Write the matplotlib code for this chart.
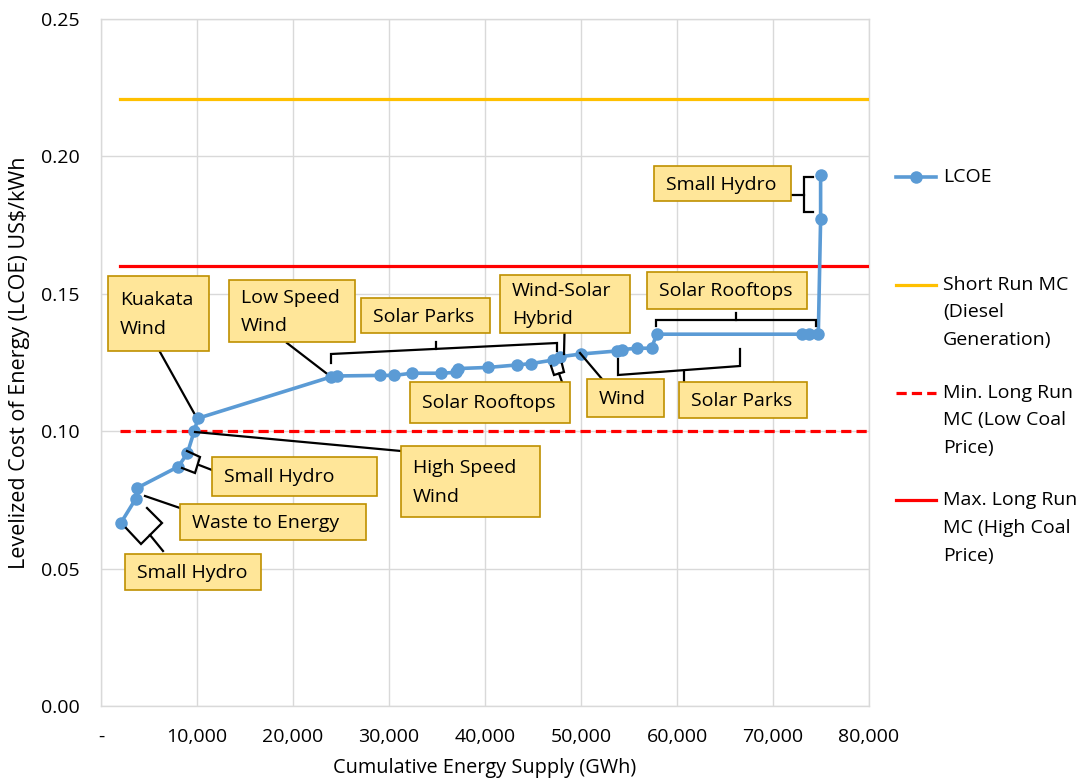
import matplotlib
matplotlib.use("Agg")
import matplotlib.pyplot as plt
from matplotlib.ticker import FuncFormatter, FixedLocator
from matplotlib.lines import Line2D
from matplotlib.patches import Rectangle
import matplotlib.transforms as mtransforms

plt.rcParams['font.family'] = ['Open Sans', 'DejaVu Sans']

# ---------------- data ----------------
supply_gwh = [2050, 3600, 3800, 8050, 9000, 9700, 10100,
              24000, 24550, 29050, 30550, 32350, 35400, 37000, 37200,
              40300, 43300, 44800, 47100, 47800, 50050,
              53750, 54270, 55850, 57350, 57880,
              72990, 73780, 74720, 74960, 74960]
lcoe = [0.0665, 0.0753, 0.0794, 0.0871, 0.0920, 0.0999, 0.1047,
        0.1198, 0.1201, 0.1203, 0.1203, 0.1211, 0.1211, 0.1214, 0.1228,
        0.1232, 0.1241, 0.1246, 0.1259, 0.1271, 0.1281,
        0.1292, 0.1297, 0.1302, 0.1302, 0.1353,
        0.1353, 0.1353, 0.1353, 0.1772, 0.1932]

ref_x = [2000, 80000]
short_run_mc = 0.221
min_long_run_mc = 0.100
max_long_run_mc = 0.160

x_ticks = [0, 10000, 20000, 30000, 40000, 50000, 60000, 70000, 80000]
y_ticks = [0.00, 0.05, 0.10, 0.15, 0.20, 0.25]

legend_labels = ["LCOE", "Short Run MC\n(Diesel\nGeneration)",
                 "Min. Long Run\nMC (Low Coal\nPrice)",
                 "Max. Long Run\nMC (High Coal\nPrice)"]

# ---------------- styles ----------------
BLUE = "#5B9BD5"
GOLD = "#FFC000"
RED = "#FF0000"
GRID = "#D9D9D9"
BOX_FACE = "#FFE699"
BOX_EDGE = "#BF9000"
FS = 14
LS_BOX = 1.74
LS_LEG = 1.68

W, H = 1084, 783
fig = plt.figure(figsize=(W / 100, H / 100), dpi=100)
ax = fig.add_axes([101 / W, (H - 706) / H, 768 / W, 687 / H])
# reference-pixel transform (origin top-left, y down) for annotation layout
px = mtransforms.Affine2D().scale(1 / W, -1 / H).translate(0, 1) + fig.transFigure

dash = (0, (3.2, 1.6))
ax.plot(ref_x, [short_run_mc] * 2, color=GOLD, lw=2.3, zorder=3)
ax.plot(ref_x, [min_long_run_mc] * 2, color=RED, lw=2.3, linestyle=dash, zorder=3)
ax.plot(ref_x, [max_long_run_mc] * 2, color=RED, lw=2.3, zorder=3)
ax.plot(supply_gwh, lcoe, color=BLUE, lw=2.6, marker='o', markersize=9,
        markeredgewidth=0, zorder=4)

ax.set_xlim(0, 80000)
ax.set_ylim(0, 0.25)
ax.xaxis.set_major_locator(FixedLocator(x_ticks))
ax.yaxis.set_major_locator(FixedLocator(y_ticks))
ax.xaxis.set_major_formatter(FuncFormatter(lambda v, p: "-" if v == 0 else f"{int(v):,}"))
ax.yaxis.set_major_formatter(FuncFormatter(lambda v, p: f"{v:.2f}"))
ax.tick_params(axis='both', length=0, labelsize=FS, colors="#000000")
ax.tick_params(axis='x', pad=16)
ax.tick_params(axis='y', pad=15.5)
ax.grid(True, color=GRID, lw=1.0, zorder=0)
ax.set_axisbelow(True)
for s in ax.spines.values():
    s.set_color(GRID)
    s.set_linewidth(1.0)

ax.set_xlabel("Cumulative Energy Supply (GWh)", fontsize=14.3)
ax.xaxis.set_label_coords((485 - 101) / 768, (706 - 768) / 687)
ax.xaxis.label.set_va('center')
ax.set_ylabel("Levelized Cost of Energy (LCOE) US$/kWh", fontsize=15.5)
ax.yaxis.set_label_coords((20 - 101) / 768, 0.5)
ax.yaxis.label.set_va('center')

# ---------------- annotations (layout in reference pixels) ----------------
boxes = [
    ("Kuakata\nWind", 108, 276, 209, 351),
    ("Low Speed\nWind", 229, 280, 355, 342),
    ("Solar Parks", 361, 298, 490, 333),
    ("Wind-Solar\nHybrid", 500, 275, 630, 333),
    ("Solar Rooftops", 647, 272, 807, 309),
    ("Small Hydro", 654, 166, 791, 201),
    ("Solar Rooftops", 410, 382, 570, 423),
    ("Wind", 587, 379, 664, 417),
    ("Solar Parks", 679, 382, 807, 418),
    ("High Speed\nWind", 401, 446, 540, 517),
    ("Small Hydro", 212, 457, 377, 496),
    ("Waste to Energy", 180, 504, 366, 540),
    ("Small Hydro", 125, 554, 261, 590),
]
leaders = [
    [(160, 352), (194, 413)],
    [(287, 343), (326, 373)],
    [(331, 363), (331, 354), (557, 343), (557, 351)],
    [(436, 349), (436, 342)],
    [(564.5, 333), (564, 354)],
    [(551, 366), (554, 375), (564, 372), (562, 364)],
    [(559, 373.5), (562, 382)],
    [(580, 353), (602, 379)],
    [(618, 359), (618, 375), (740, 366), (740, 349)],
    [(684, 371), (684, 382)],
    [(656, 326), (656, 320), (816, 320), (816, 326)],
    [(736, 320), (736, 313)],
    [(813, 177), (804, 177), (804, 212), (813, 212)],
    [(804, 195), (791, 195)],
    [(195, 432), (401, 451)],
    [(187, 451), (200, 457), (195, 473), (182, 468)],
    [(199, 465), (212, 470)],
    [(145, 496), (180, 508)],
    [(147, 508), (162, 523), (141, 544), (126, 528)],
    [(150, 535), (163, 551)],
]
for pts in leaders:
    xs, ys = zip(*pts)
    fig.add_artist(Line2D(xs, ys, transform=px, color="black", lw=1.6,
                          solid_joinstyle='miter', zorder=5))
for label, l, t, r, b in boxes:
    fig.add_artist(Rectangle((l, t), r - l, b - t, transform=px,
                             facecolor=BOX_FACE, edgecolor=BOX_EDGE, lw=1.2, zorder=6))
    fig.text(l + 12, (t + b) / 2 + 1, label, transform=px, fontsize=FS,
             ha='left', va='center', linespacing=LS_BOX, zorder=7)

# ---------------- legend ----------------
leg_styles = [
    dict(color=BLUE, lw=2.6, marker='o', markersize=9, markeredgewidth=0),
    dict(color=GOLD, lw=2.3),
    dict(color=RED, lw=2.3, linestyle=dash),
    dict(color=RED, lw=2.3),
]
leg_first = [177, 285, 393, 500]
leg_center = [177, 312.5, 420.5, 528]
for lab, st, y0, yc in zip(legend_labels, leg_styles, leg_first, leg_center):
    ln = Line2D([896, 936], [y0, y0], transform=px, **st)
    if 'marker' in st:
        ln.set_markevery([1])
        ln.set_data([896, 916, 936], [y0, y0, y0])
    fig.add_artist(ln)
    fig.text(943, yc, lab, transform=px, fontsize=FS, ha='left', va='center',
             linespacing=LS_LEG)

fig.savefig("out.png", dpi=100)
